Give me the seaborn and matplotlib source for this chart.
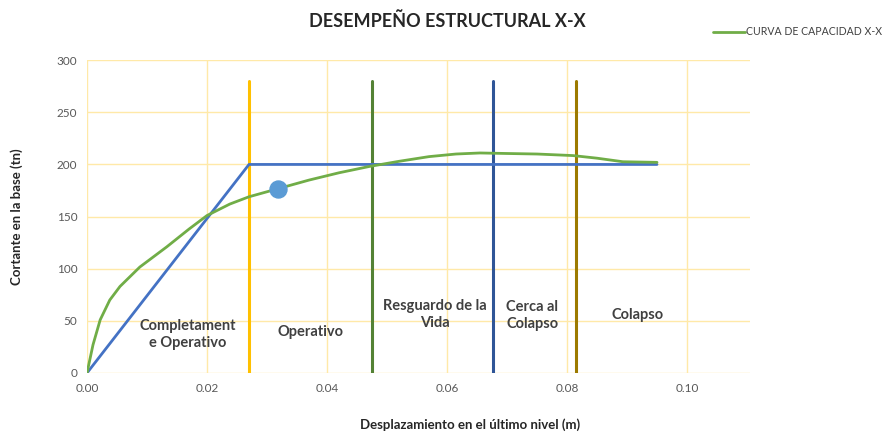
import matplotlib
matplotlib.use("Agg")
import matplotlib.pyplot as plt
import seaborn as sns
import pandas as pd

# Capacity curve (green)
cap_x = [0.0, 0.001, 0.0022, 0.0038, 0.0055, 0.0088, 0.0133, 0.017, 0.020, 0.0238, 0.027, 0.032,
         0.037, 0.042, 0.047, 0.052, 0.057, 0.0615, 0.0655, 0.070, 0.075, 0.081, 0.085, 0.0893, 0.095]
cap_y = [0.0, 27, 51, 70, 83, 101.6, 121, 138, 151, 162, 169, 177,
         185, 192, 198, 203, 207.5, 210, 211, 210.5, 210, 208.5, 206, 202.6, 202]
# Bilinear idealisation (blue)
bil_x = [0.0, 0.027, 0.095]
bil_y = [0.0, 200, 200]
# Performance point
pp_x = [0.0319]
pp_y = [176]
# Performance level limits
lim_x = [0.027, 0.0475, 0.0677, 0.0815]
lim_colors = ["#FFC000", "#548235", "#2F5597", "#9C7A00"]
lim_top = 280
# Zone labels
zone_labels = ["Completament\ne Operativo", "Operativo", "Resguardo de la\nVida", "Cerca al\nColapso", "Colapso"]
zone_x = [0.0168, 0.0372, 0.058, 0.0742, 0.0917]
zone_y = [37, 39, 56, 55, 56]
xticks = [0.0, 0.02, 0.04, 0.06, 0.08, 0.10]
yticks = [0, 50, 100, 150, 200, 250, 300]

sns.set_theme(style="white")
plt.rcParams["font.family"] = ["Lato", "DejaVu Sans"]

fig = plt.figure(figsize=(8.95, 4.36), dpi=100)
ax = fig.add_axes([0.0972, 0.1445, 0.7408, 0.7175])

cap_df = pd.DataFrame({"x": cap_x, "y": cap_y})
bil_df = pd.DataFrame({"x": bil_x, "y": bil_y})

for xv, c in zip(lim_x, lim_colors):
    ax.plot([xv, xv], [0, lim_top], color=c, lw=2.2, zorder=2)

sns.lineplot(data=bil_df, x="x", y="y", color="#4472C4", lw=2, ax=ax, zorder=3)
sns.lineplot(data=cap_df, x="x", y="y", color="#70AD47", lw=2, ax=ax, zorder=4,
             label="CURVA DE CAPACIDAD X-X")
sns.scatterplot(x=pp_x, y=pp_y, color="#5B9BD5", s=150, ax=ax, zorder=5, edgecolor="#5B9BD5")

for t, xv, yv in zip(zone_labels, zone_x, zone_y):
    ax.text(xv, yv, t, ha="center", va="center", fontsize=10.5, fontweight="bold",
            color="#404040", linespacing=1.25, zorder=6)

ax.set_xlim(0, 0.1105)
ax.set_ylim(0, 300)
ax.set_xticks(xticks)
ax.set_yticks(yticks)
ax.set_xticklabels([f"{v:.2f}" for v in xticks], fontsize=8.5, color="#595959")
ax.set_yticklabels([str(v) for v in yticks], fontsize=8.5, color="#595959")
ax.grid(True, color="#FFE9A8", lw=1)
ax.set_axisbelow(True)
for s in ax.spines.values():
    s.set_visible(False)
ax.tick_params(length=0, pad=7)

ax.set_xlabel("Desplazamiento en el último nivel (m)", fontsize=9.5, fontweight="bold",
              color="#262626")
ax.xaxis.set_label_coords(0.578, -0.145)
ax.set_ylabel("Cortante en la base (tn)", fontsize=9.5, fontweight="bold",
              color="#262626", labelpad=24)
fig.text(0.5, 0.952, "DESEMPEÑO ESTRUCTURAL X-X", ha="center", va="center",
         fontsize=13, fontweight="bold", color="#262626")

leg = ax.legend(loc="upper left", bbox_to_anchor=(0.938, 1.122), frameon=False,
                fontsize=7.6, handlelength=3.0, handletextpad=0.1, borderaxespad=0)
for t in leg.get_texts():
    t.set_color("#404040")

fig.savefig("out.png", dpi=100)
